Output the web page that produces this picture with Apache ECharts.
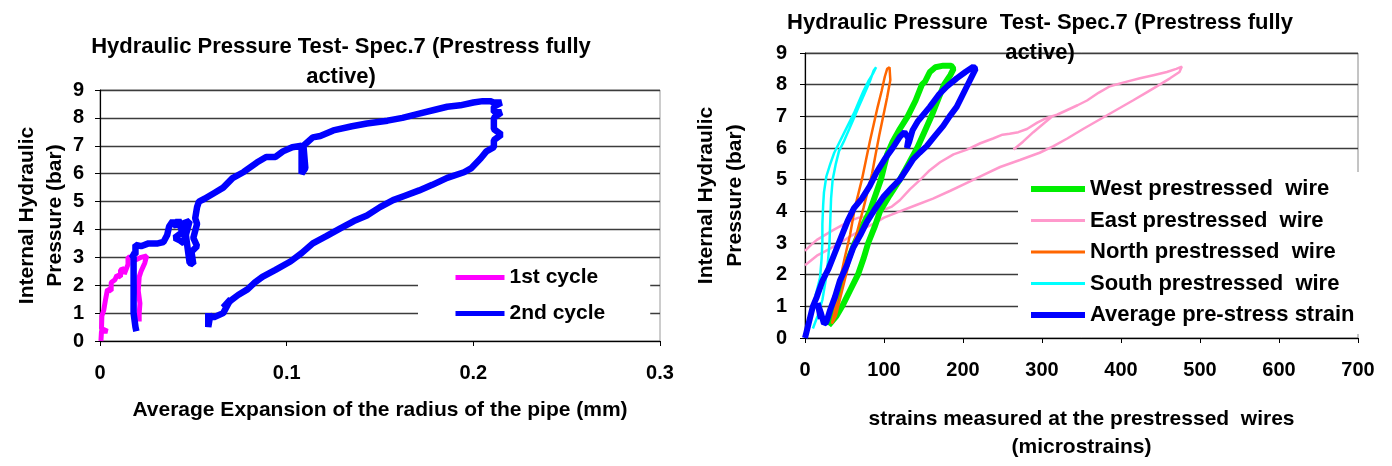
<!DOCTYPE html>
<html>
<head>
<meta charset="utf-8">
<title>Hydraulic Pressure Test - Spec.7</title>
<script src="https://cdn.jsdelivr.net/npm/echarts@6.0.0/dist/echarts.min.js"></script>
<style>
  html, body { margin: 0; padding: 0; background: #fff; }
  #chart { width: 1392px; height: 466px; }
</style>
</head>
<body>
<div id="chart"></div>
<script>
// left panel: average expansion of the radius (mm) vs internal pressure (bar)
const cycle1 = [
  [0.0005, 0.0], [0.0008, 0.35], [0.004, 0.35], [0.0008, 0.45], [0.001, 0.9], [0.002, 1.1],
  [0.003, 1.5], [0.004, 1.85], [0.006, 1.8], [0.006, 2.1], [0.008, 2.2], [0.009, 2.35],
  [0.011, 2.3], [0.011, 2.55], [0.013, 2.6], [0.013, 2.4], [0.015, 2.75], [0.015, 3.0],
  [0.017, 3.0], [0.019, 2.9], [0.022, 3.0], [0.025, 3.05], [0.024, 2.8], [0.022, 2.5],
  [0.021, 2.3], [0.0205, 1.8], [0.0214, 1.35], [0.021, 1.0], [0.021, 0.7]
]
const cycle2 = [
  [0.0195, 0.35], [0.019, 0.5], [0.018, 1.0], [0.018, 1.5], [0.018, 2.0], [0.018, 2.5],
  [0.018, 3.0], [0.017, 3.1], [0.019, 3.1], [0.019, 3.45], [0.022, 3.4], [0.026, 3.5],
  [0.031, 3.5], [0.034, 3.55], [0.036, 3.8], [0.037, 4.1], [0.039, 4.3], [0.041, 4.1],
  [0.042, 4.35], [0.044, 3.9], [0.040, 3.7], [0.043, 3.6], [0.045, 3.5], [0.046, 4.0],
  [0.044, 4.2], [0.048, 4.3], [0.046, 3.8], [0.047, 3.3], [0.048, 2.8], [0.050, 2.75],
  [0.049, 3.2], [0.052, 3.4], [0.050, 3.7], [0.052, 4.2], [0.051, 4.4], [0.052, 4.8],
  [0.053, 5.0], [0.056, 5.1], [0.061, 5.3], [0.066, 5.5], [0.071, 5.84], [0.077, 6.06],
  [0.084, 6.4], [0.089, 6.6], [0.094, 6.6], [0.098, 6.8], [0.103, 6.95], [0.108, 7.0],
  [0.108, 6.0], [0.110, 6.2], [0.109, 7.0], [0.114, 7.3], [0.118, 7.35], [0.125, 7.55],
  [0.135, 7.7], [0.143, 7.8], [0.154, 7.9], [0.162, 8.0], [0.171, 8.15], [0.180, 8.3],
  [0.186, 8.4], [0.193, 8.45], [0.200, 8.55], [0.205, 8.6], [0.209, 8.6], [0.211, 8.55],
  [0.215, 8.55], [0.211, 8.4], [0.211, 8.2], [0.215, 8.2], [0.211, 8.0], [0.211, 7.6],
  [0.215, 7.4], [0.211, 7.2], [0.211, 6.95], [0.207, 6.8], [0.204, 6.55], [0.199, 6.2],
  [0.195, 6.05], [0.186, 5.85], [0.178, 5.6], [0.171, 5.4], [0.163, 5.2], [0.157, 5.05],
  [0.150, 4.8], [0.143, 4.5], [0.136, 4.3], [0.129, 4.05], [0.121, 3.75], [0.114, 3.5],
  [0.108, 3.15], [0.102, 2.85], [0.094, 2.55], [0.087, 2.3], [0.083, 2.1], [0.079, 1.85],
  [0.074, 1.65], [0.070, 1.45], [0.068, 1.3], [0.066, 1.2], [0.070, 1.5], [0.066, 1.0],
  [0.061, 0.85], [0.059, 0.9], [0.058, 0.5], [0.058, 1.0]
]

// right panel: strains in the prestressed wires (microstrains) vs pressure (bar)
const westWire = [
  [30, 0.4], [40, 0.7], [47, 1.0], [57, 1.5], [67, 2.0], [74, 2.5], [80, 3.0], [88, 3.5],
  [95, 4.0], [107, 4.5], [120, 5.0], [131, 5.5], [142, 6.0], [151, 6.5], [160, 7.0],
  [168, 7.5], [176, 8.0], [184, 8.3], [188, 8.5], [185, 8.6], [175, 8.6], [165, 8.55],
  [158, 8.4], [152, 8.1], [148, 8.0], [140, 7.5], [130, 7.0], [120, 6.6], [111, 6.2],
  [104, 5.8], [100, 5.4], [96, 5.0], [89, 4.5], [82, 4.0], [72, 3.5], [63, 3.0], [55, 2.5],
  [48, 2.0], [43, 1.5], [38, 1.0], [33, 0.6], [30, 0.4]
]
const eastWire = [
  [0, 2.75], [8, 2.95], [15, 3.1], [25, 3.25], [35, 3.4], [46, 3.55], [57, 3.7], [68, 3.8],
  [80, 3.85], [90, 3.95], [100, 4.05], [110, 4.15], [120, 4.35], [133, 4.7], [146, 5.0],
  [158, 5.3], [171, 5.55], [188, 5.8], [205, 5.95], [222, 6.15], [238, 6.3], [250, 6.42],
  [259, 6.45], [270, 6.5], [281, 6.6], [294, 6.8], [306, 6.95], [319, 7.05], [332, 7.2],
  [345, 7.35], [357, 7.5], [372, 7.75], [386, 7.95], [405, 8.08], [424, 8.2], [441, 8.3],
  [458, 8.4], [470, 8.5], [477, 8.57], [474, 8.4], [462, 8.2], [449, 8.0], [432, 7.75],
  [415, 7.5], [394, 7.2], [373, 6.9], [352, 6.6], [332, 6.3], [314, 6.05], [297, 5.85],
  [272, 5.62], [247, 5.4], [226, 5.15], [205, 4.9], [184, 4.65], [162, 4.4], [141, 4.2],
  [120, 4.0], [100, 3.8], [90, 3.65], [78, 3.5], [60, 3.25], [44, 3.0], [30, 2.8], [15, 2.6],
  [0, 2.3], ['-', '-'], [264, 5.95], [276, 6.2], [289, 6.5], [301, 6.75], [312, 6.98]
]
const northWire = [
  [34, 0.45], [39, 1.0], [44, 1.8], [50, 2.5], [57, 3.25], [63, 4.1], [68, 4.6], [72, 5.0],
  [77, 5.6], [82, 6.2], [87, 6.75], [92, 7.3], [97, 7.8], [101, 8.25], [104, 8.5], [107, 8.55],
  [108, 8.15], [104, 7.6], [99, 7.0], [94, 6.4], [89, 5.75], [85, 5.2], [80, 4.7], [74, 4.1],
  [67, 3.45], [61, 2.9], [55, 2.3], [50, 1.8], [44, 1.2], [39, 0.7], [34, 0.45]
]
const southWire = [
  [3, 0.2], [8, 0.8], [14, 1.4], [19, 1.9], [21, 2.5], [22, 3.0], [22, 3.6], [23, 4.2],
  [24, 4.6], [27, 5.1], [32, 5.5], [37, 5.85], [43, 6.15], [50, 6.5], [56, 6.8], [62, 7.1],
  [68, 7.45], [74, 7.8], [80, 8.1], [86, 8.35], [90, 8.55], [87, 8.45], [82, 8.1], [75, 7.7],
  [68, 7.3], [62, 6.95], [56, 6.6], [49, 6.2], [43, 5.9], [39, 5.5], [35, 5.0], [33, 4.4],
  [32, 3.7], [31, 3.0], [29, 2.4], [26, 1.8], [22, 1.2], [16, 0.7], [10, 0.3]
]
const averageStrain = [
  [0, 0], [5, 0.5], [10, 1.0], [15, 1.3], [22, 1.8], [30, 2.2], [38, 2.7], [46, 3.2],
  [54, 3.7], [62, 4.1], [72, 4.4], [82, 4.8], [91, 5.25], [101, 5.65], [111, 6.0],
  [120, 6.35], [126, 6.5], [131, 6.3], [129, 6.0], [132, 6.2], [136, 6.55], [143, 6.85],
  [158, 7.3], [170, 7.7], [180, 7.95], [192, 8.2], [203, 8.4], [213, 8.57], [216, 8.5],
  [210, 8.2], [205, 7.95], [198, 7.6], [192, 7.3], [183, 7.0], [175, 6.7], [165, 6.4],
  [154, 6.06], [145, 5.85], [137, 5.65], [128, 5.3], [120, 5.0], [110, 4.75], [99, 4.45],
  [88, 4.05], [78, 3.65], [70, 3.25], [61, 2.85], [53, 2.3], [44, 1.8], [38, 1.3], [32, 0.9],
  [27, 0.5], [24, 0.45], [20, 0.8], [16, 1.1], [20, 0.6]
]

// axis ranges (min, max, step)
const pressureTicks = [0, 9, 1]
const expansionTicks = [0, 0.3, 0.1]
const strainTicks = [0, 700, 100]

const font = 'Liberation Sans, Arial, sans-serif'

const valueAxis = (gridIndex, ticks, extra) => Object.assign({
  type: 'value',
  gridIndex,
  min: ticks[0],
  max: ticks[1],
  interval: ticks[2],
  axisLine: { show: true, onZero: false, lineStyle: { color: '#000', width: 1.2 } },
  axisTick: { show: true, length: 5, lineStyle: { color: '#000' } },
  axisLabel: { color: '#000', fontSize: 20, fontWeight: 'bold', fontFamily: font },
  nameTextStyle: { color: '#000', fontSize: 21, fontWeight: 'bold', fontFamily: font },
  nameLocation: 'middle'
}, extra)

const lineSeries = (name, data, color, width, axisIndex) => ({
  name,
  type: 'line',
  xAxisIndex: axisIndex,
  yAxisIndex: axisIndex,
  data,
  symbol: 'none',
  connectNulls: false,
  animation: false,
  lineStyle: { color, width },
  itemStyle: { color }
})

const titleText = (left, top, text) => ({
  text,
  left,
  top,
  textAlign: 'center',
  padding: 0,
  textStyle: { color: '#000', fontSize: 22, fontWeight: 'bold', fontFamily: font, lineHeight: 30 }
})

// legend entry drawn as a plain line of the series thickness
const legendItem = (name, width) => ({ name, lineStyle: { width } })

const legendBox = (extra) => Object.assign({
  orient: 'vertical',
  backgroundColor: '#fff',
  itemWidth: 50,
  itemHeight: 14,
  itemStyle: { opacity: 0 },
  textStyle: { color: '#000', fontSize: 21, fontWeight: 'bold', fontFamily: font }
}, extra)

const option = {
  backgroundColor: '#fff',
  animation: false,
  title: [
    titleText(341, 32, 'Hydraulic Pressure Test- Spec.7 (Prestress fully\nactive)'),
    titleText(1040, 8, 'Hydraulic Pressure  Test- Spec.7 (Prestress fully\nactive)')
  ],
  grid: [
    { left: 100, top: 90, width: 560, height: 251, show: true, borderColor: '#9a9a9a', borderWidth: 1 },
    { left: 805, top: 53, width: 553, height: 288, show: true, borderColor: '#8a8a8a', borderWidth: 1 }
  ],
  xAxis: [
    valueAxis(0, expansionTicks, {
      name: 'Average Expansion of the radius of the pipe (mm)',
      nameGap: 59,
      axisLabel: { color: '#000', fontSize: 20, fontWeight: 'bold', fontFamily: font, margin: 22 },
      splitLine: { show: false }
    }),
    valueAxis(1, strainTicks, {
      name: 'strains measured at the prestressed  wires\n(microstrains)',
      nameGap: 67,
      nameTextStyle: { color: '#000', fontSize: 21, fontWeight: 'bold', fontFamily: font, lineHeight: 28 },
      axisLabel: { color: '#000', fontSize: 20, fontWeight: 'bold', fontFamily: font, margin: 22 },
      splitLine: { show: false }
    })
  ],
  yAxis: [
    valueAxis(0, pressureTicks, {
      name: 'Internal Hydraulic\nPressure (bar)',
      nameGap: 31,
      nameTextStyle: { color: '#000', fontSize: 21, fontWeight: 'bold', fontFamily: font, lineHeight: 28 },
      axisLabel: { color: '#000', fontSize: 20, fontWeight: 'bold', fontFamily: font, margin: 16 },
      splitLine: { show: true, lineStyle: { color: '#3c3c3c', width: 1.4 } }
    }),
    valueAxis(1, pressureTicks, {
      name: 'Internal Hydraulic\nPressure (bar)',
      nameGap: 55,
      nameTextStyle: { color: '#000', fontSize: 21, fontWeight: 'bold', fontFamily: font, lineHeight: 29 },
      axisLabel: { color: '#000', fontSize: 20, fontWeight: 'bold', fontFamily: font, margin: 18 },
      splitLine: { show: true, lineStyle: { color: '#3c3c3c', width: 1.4 } }
    })
  ],
  legend: [
    legendBox({
      data: [legendItem('1st cycle', 5), legendItem('2nd cycle', 5)],
      left: 418,
      top: 262,
      itemWidth: 49,
      itemGap: 15,
      padding: [5, 45, 10, 35]
    }),
    legendBox({
      data: [
        legendItem('West prestressed  wire', 6),
        legendItem('East prestressed  wire', 3),
        legendItem('North prestressed  wire', 3),
        legendItem('South prestressed  wire', 3),
        legendItem('Average pre-stress strain', 6)
      ],
      left: 1018,
      top: 172,
      itemWidth: 54,
      itemGap: 9.5,
      padding: [6, 16, 8, 10],
      textStyle: { color: '#000', fontSize: 22, fontWeight: 'bold', fontFamily: font }
    })
  ],
  series: [
    lineSeries('1st cycle', cycle1, '#ff00ff', 5, 0),
    lineSeries('2nd cycle', cycle2, '#0000ff', 6.5, 0),
    lineSeries('East prestressed  wire', eastWire, '#ff99cc', 2.5, 1),
    lineSeries('West prestressed  wire', westWire, '#00ee00', 6, 1),
    lineSeries('South prestressed  wire', southWire, '#00ffff', 2.5, 1),
    lineSeries('North prestressed  wire', northWire, '#ff6600', 2.5, 1),
    lineSeries('Average pre-stress strain', averageStrain, '#0000ff', 6, 1)
  ]
}

const chart = echarts.init(document.getElementById('chart'), null, { renderer: 'canvas' })
chart.setOption(option)
</script>
</body>
</html>
